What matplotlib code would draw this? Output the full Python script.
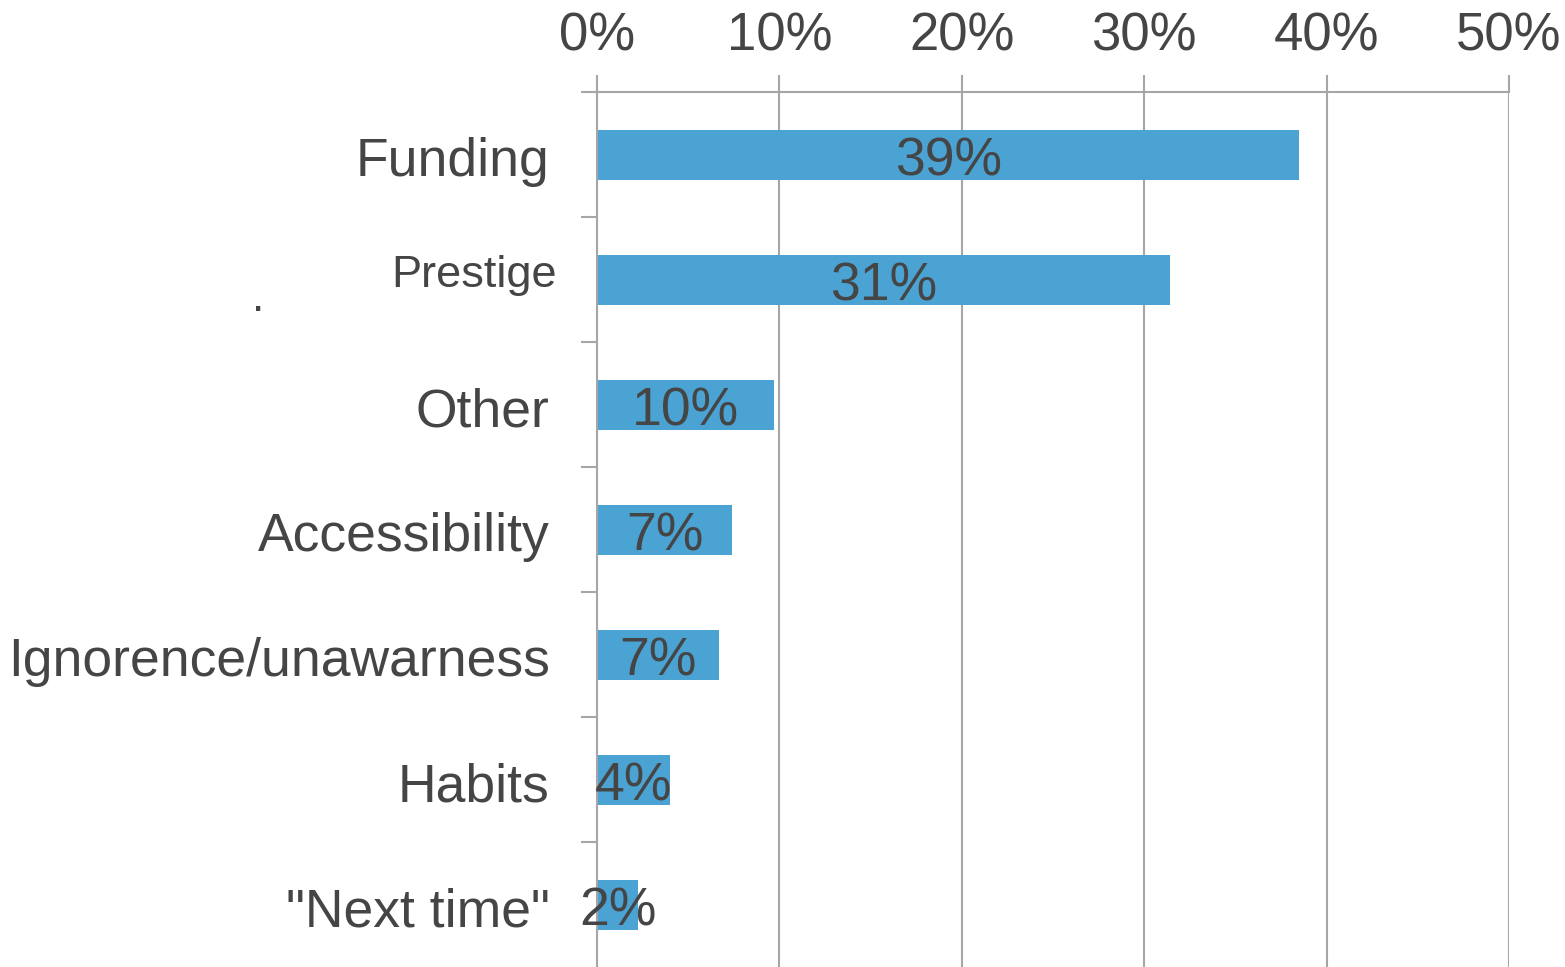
import matplotlib.pyplot as plt
from matplotlib.ticker import FixedLocator

plt.rcParams['font.family'] = ['Liberation Sans', 'DejaVu Sans']

categories = ['Funding', 'Prestige', 'Other', 'Accessibility',
              'Ignorence/unawarness', 'Habits', '"Next time"']
values = [38.5, 31.4, 9.7, 7.4, 6.7, 4.0, 2.25]
value_labels = ['39%', '31%', '10%', '7%', '7%', '4%', '2%']
x_ticks = [0, 10, 20, 30, 40, 50]

text_color = '#454545'
grid_color = '#a6a6a6'
bar_color = '#4ba3d4'

fig = plt.figure(figsize=(15.65, 9.67), dpi=100)
ax = fig.add_axes([597 / 1565, 0, 912 / 1565, 875 / 967])

pos = list(range(len(categories)))
ax.barh(pos, values, height=0.4, color=bar_color, zorder=2)

ax.set_xlim(0, 50)
ax.set_ylim(len(categories) - 0.5, -0.5)

# x axis on top
ax.xaxis.tick_top()
ax.set_xticks(x_ticks)
ax.set_xticklabels([f'{t}%' for t in x_ticks])
ax.tick_params(axis='x', which='major', direction='out', length=12, width=1.5,
               color=grid_color, labelsize=38, labelcolor=text_color, pad=10)
ax.grid(axis='x', color=grid_color, linewidth=1.5, zorder=0)

# category labels sit a little below the bar centre (baseline aligned);
# Prestige is drawn separately in a smaller size
ylabels = [c if c != 'Prestige' else '' for c in categories]
ax.set_yticks([p + 0.172 for p in pos])
ax.set_yticklabels(ylabels)
ax.tick_params(axis='y', which='major', length=0, labelsize=38.5,
               labelcolor=text_color, pad=34)
for lab in ax.get_yticklabels():
    lab.set_va('baseline')
ax.yaxis.set_minor_locator(FixedLocator([p - 0.5 for p in pos]))
ax.tick_params(axis='y', which='minor', direction='out', length=11.5, width=1.5,
               color=grid_color)

trans = ax.get_yaxis_transform()
ax.text(-0.044, 1.056, 'Prestige', transform=trans, ha='right', va='baseline',
        fontsize=32.5, color=text_color)
ax.text(-0.3717, 1.248, '.', transform=trans, ha='center', va='baseline',
        fontsize=32, color=text_color)

for p, v, lab in zip(pos, values, value_labels):
    ax.text(v / 2, p + 0.165, lab, ha='center', va='baseline', fontsize=38.5,
            color=text_color, zorder=3)

for side in ['right', 'bottom']:
    ax.spines[side].set_visible(False)
for side in ['left', 'top']:
    ax.spines[side].set_color(grid_color)
    ax.spines[side].set_linewidth(1.5)

fig.savefig('out.png', dpi=100)
